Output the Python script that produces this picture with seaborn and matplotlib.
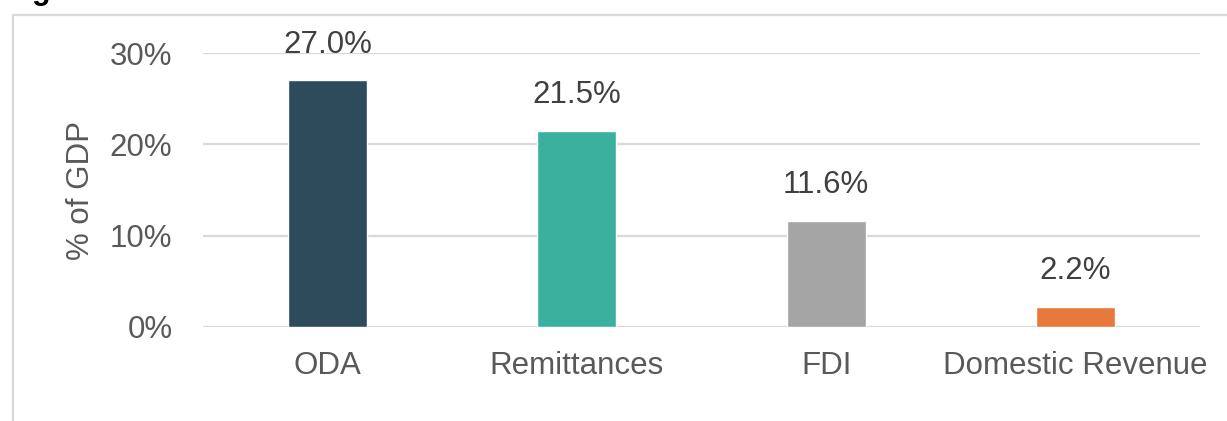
import pandas as pd
import seaborn as sns
import matplotlib.pyplot as plt
from matplotlib.patches import Rectangle
from matplotlib.ticker import FuncFormatter

# values (share of GDP, %)
categories = ['ODA', 'Remittances', 'FDI', 'Domestic Revenue']
values = [27.0, 21.5, 11.6, 2.2]
colours = ['#2e4b5c', '#3ab09e', '#a5a5a5', '#e8793d']
y_ticks = [0, 10, 20, 30]

sns.set_style('white')
plt.rcParams['font.family'] = ['Liberation Sans', 'DejaVu Sans']

df = pd.DataFrame({'flow': categories, 'share': values})

fig = plt.figure(figsize=(12.27, 4.21), dpi=100)
ax = fig.add_axes([203 / 1227, 1 - 327 / 421, 997 / 1227, 274 / 421])

sns.barplot(data=df, x='flow', y='share', hue='flow', palette=colours,
            width=0.317, saturation=1, legend=False, ax=ax, zorder=3)

for cont, v in zip(ax.containers, values):
    ax.bar_label(cont, labels=['%.1f%%' % v], padding=15,
                 fontsize=22.5, color='#404040')

ax.set_ylim(0, 30)
ax.set_yticks(y_ticks)
ax.yaxis.set_major_formatter(FuncFormatter(lambda v, _: '%d%%' % v))
ax.grid(axis='y', color='#d9d9d9', linewidth=1.6, zorder=0)
ax.set_axisbelow(True)
sns.despine(ax=ax, left=True, bottom=True)
ax.tick_params(axis='both', length=0, labelsize=22.5, colors='#595959')
ax.tick_params(axis='y', pad=22)
ax.tick_params(axis='x', pad=17)
ax.set_xlabel('')
ax.set_ylabel('% of GDP', fontsize=22.5, color='#595959')
ax.yaxis.set_label_coords(-0.107, 0.5)

# outer frame of the chart, cut by the image edge
fig.add_artist(Rectangle((12.5 / 1227, -0.2), 1.5, 1.2 - 14.5 / 421,
                         transform=fig.transFigure, fill=False,
                         edgecolor='#d9d9d9', linewidth=1.6))
# heading above the frame, only its lowest strokes fall inside the image
fig.text(5 / 1227, 1 + 1.5 / 421, 'Figure', fontsize=22, fontweight='bold',
         color='black', va='baseline', ha='left')

fig.savefig('out.png', dpi=100)
